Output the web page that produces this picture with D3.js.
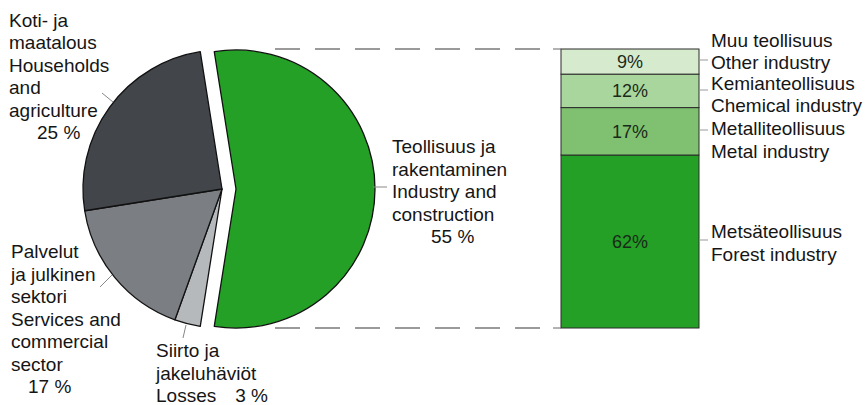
<!DOCTYPE html>
<html><head><meta charset="utf-8">
<script src="https://cdn.jsdelivr.net/npm/d3@7"></script>
<style>
html,body{margin:0;padding:0;background:#fff;}
svg{display:block;font-family:"Liberation Sans",Arial,Helvetica,sans-serif;}
</style></head>
<body>
<svg id="chart" width="867" height="405"></svg>
<script>
// ---- data ----
const pieCategories = ["Teollisuus ja rakentaminen", "Siirto ja jakeluhäviöt", "Palvelut ja julkinen sektori", "Koti- ja maatalous"];
const pieValues = [55, 3, 17, 25];
const pieLabels = [
  ["Teollisuus ja", "rakentaminen", "Industry and", "construction", "55 %"],
  ["Siirto ja", "jakeluhäviöt", "Losses\u2002\u20023 %"],
  ["Palvelut", "ja julkinen", "sektori", "Services and", "commercial", "sector", "17 %"],
  ["Koti- ja", "maatalous", "Households", "and", "agriculture", "25 %"]
];
const barCategories = ["Metsäteollisuus", "Metalliteollisuus", "Kemianteollisuus", "Muu teollisuus"];
const barCategoriesEn = ["Forest industry", "Metal industry", "Chemical industry", "Other industry"];
const barValues = [62, 17, 12, 9];

// ---- styles ----
const pieColors = ["#23a025", "#b6b9bc", "#7b7e82", "#42464b"];
const barColors = ["#23a025", "#7fc171", "#a9d69d", "#d6ebcd"];
const FS = 19;

const svg = d3.select("#chart");
const cx = 222, cy = 189, R = 139, explode = 14;

const pie = d3.pie().sort(null).value(d => d)
  .startAngle(-0.05 * Math.PI).endAngle(1.95 * Math.PI);
const arcs = pie(pieValues);
const arc = d3.arc().innerRadius(0).outerRadius(R);

const g = svg.append("g").attr("transform", `translate(${cx},${cy})`);
g.selectAll("path").data(arcs).join("path")
  .attr("d", arc)
  .attr("transform", (d, i) => {
    if (i !== 0) return null;
    const a = (d.startAngle + d.endAngle) / 2;
    return `translate(${explode * Math.sin(a)},${-explode * Math.cos(a)})`;
  })
  .attr("fill", (d, i) => pieColors[i])
  .attr("stroke", "#111")
  .attr("stroke-width", 1.3)
  .attr("stroke-linejoin", "round");

// ---- bar (stacked) ----
const barTop = 49, barBottom = 328;
const y = d3.scaleLinear().domain([0, d3.sum(barValues)]).range([barBottom, barTop]);
const x = d3.scaleBand().domain(["industry"]).range([561, 699]);
let cum = 0;
const stack = barValues.map((v, i) => { const s = { i, v, y0: cum, y1: cum + v }; cum += v; return s; });

svg.append("g").selectAll("rect").data(stack).join("rect")
  .attr("x", x("industry"))
  .attr("width", x.bandwidth())
  .attr("y", d => y(d.y1))
  .attr("height", d => y(d.y0) - y(d.y1))
  .attr("fill", d => barColors[d.i])
  .attr("stroke", "#2a2a2a")
  .attr("stroke-width", 1);

svg.append("g").selectAll("text").data(stack).join("text")
  .attr("x", x("industry") + x.bandwidth() / 2)
  .attr("y", d => y((d.y0 + d.y1) / 2) + 6.5)
  .attr("text-anchor", "middle")
  .attr("font-size", 18)
  .attr("fill", "#1a2a1a")
  .text(d => d.v + "%");

// ---- dashed connectors ----
[barTop, barBottom].forEach(yy => {
  svg.append("line").attr("x1", 275).attr("x2", 553).attr("y1", yy).attr("y2", yy)
    .attr("stroke", "#7a7a7a").attr("stroke-width", 1.3).attr("stroke-dasharray", "25,15");
  svg.append("line").attr("x1", 553).attr("x2", 561).attr("y1", yy).attr("y2", yy)
    .attr("stroke", "#666").attr("stroke-width", 1);
});

// ---- bar labels ----
const barLabelY = [[238, 261], [135, 158], [90, 112], [47, 69]];
const barTickY = [240, 130, 90, 60];
stack.forEach((d, i) => {
  svg.append("line").attr("x1", 699).attr("x2", 708).attr("y1", barTickY[i]).attr("y2", barTickY[i])
    .attr("stroke", "#999").attr("stroke-width", 1);
  const t = svg.append("text").attr("font-size", FS).attr("fill", "#151515");
  t.append("tspan").attr("x", 711).attr("y", barLabelY[i][0]).text(barCategories[i]);
  t.append("tspan").attr("x", 711).attr("y", barLabelY[i][1]).text(barCategoriesEn[i]);
});

// ---- pie labels ----
const lh = 22.5;
function multiline(lines, x0, yBase, xs) {
  const t = svg.append("text").attr("font-size", FS).attr("fill", "#151515");
  lines.forEach((l, k) => {
    t.append("tspan").attr("x", xs && xs[k] != null ? xs[k] : x0).attr("y", yBase + k * lh).text(l);
  });
}
multiline(pieLabels[0], 392, 153, [null, null, null, null, 431]);
multiline(pieLabels[1], 156, 357);
multiline(pieLabels[2], 11, 258, [null, null, null, null, null, null, 28]);
multiline(pieLabels[3], 9, 26.5, [null, null, null, null, null, 37]);

// leader lines
const leaders = [[373, 187, 387, 187], [183, 338, 186, 325], [100, 287, 112, 275], [102, 93, 113, 102]];
svg.append("g").selectAll("line").data(leaders).join("line")
  .attr("x1", d => d[0]).attr("y1", d => d[1]).attr("x2", d => d[2]).attr("y2", d => d[3])
  .attr("stroke", "#888").attr("stroke-width", 1);
</script>
</body></html>
